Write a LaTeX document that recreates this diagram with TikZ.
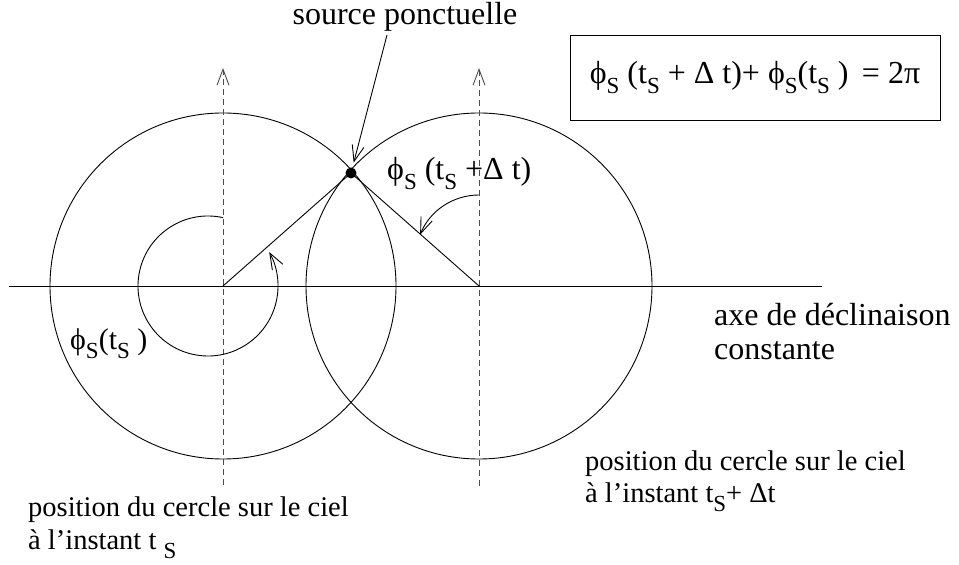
\documentclass[tikz,border=0pt]{standalone}
\usepackage{fontspec}
\setmainfont{Liberation Serif}
\usetikzlibrary{arrows.meta, positioning, calc}

\newcommand{\lowsub}[1]{\raisebox{-0.3em}{\fontsize{23}{23}\selectfont #1}}
\newcommand{\bigtxt}{\fontsize{32}{37}\selectfont}
\newcommand{\midtxt}{\fontsize{28.5}{33}\selectfont}

\begin{document}
\begin{tikzpicture}[
    x=1pt, y=1pt,
    >={Straight Barb[length=16pt, width=12pt]},
    thinline/.style={line width=0.9pt},
    guide/.style={thinline, dash pattern=on 6pt off 4pt, black!70, ->},
    lbl/.style={inner sep=0pt, anchor=base west},
    srcdot/.style={circle, fill, inner sep=0pt, minimum size=11pt}
  ]
  \useasboundingbox (0,0) rectangle (959,565);

  % centres and source point
  \coordinate (cl) at (223,279);
  \coordinate (cr) at (479,279);
  \coordinate (src) at (351,392);
  \coordinate (phil) at (208,279);
  \coordinate (phir) at (479,306.5);

  % declination axis
  \coordinate (axw) at (9,279);
  \coordinate (axe) at (822,279);
  \draw[thinline] (axw) -- (axe);

  % circles on the sky
  \draw[thinline] (cl) circle[radius=173];
  \draw[thinline] (cr) circle[radius=173];

  % dashed guides
  \coordinate (dlb) at (223,80);
  \coordinate (dlt) at (223,497);
  \coordinate (drb) at (479,79);
  \coordinate (drt) at (479,497);
  \draw[guide] (dlb) -- (dlt);
  \draw[guide] (drb) -- (drt);

  % radii to the source
  \draw[thinline] (cl) -- (src) -- (cr);
  \node[srcdot] (dot) at (src) {};

  % angles
  \draw[thinline, ->] ([shift={(77.6:70)}]phil) arc[start angle=77.6, end angle=389, radius=70];
  \draw[thinline, ->] ([shift={(90:63.5)}]phir) arc[start angle=90, end angle=158, radius=63.5];

  % labels
  \node[inner sep=0pt, anchor=base] (srclbl) at (405,540) {\bigtxt source ponctuelle};
  \coordinate (srctail) at (387,530);
  \draw[thinline, ->, shorten >=5pt] (srctail) -- (dot);

  \node[lbl] (phiright) at (387,385) {\bigtxt ϕ\lowsub{S} (t\lowsub{S} +Δ t)};
  \node[lbl] (phileft) at (70,215) {\fontsize{30}{34}\selectfont ϕ\lowsub{S}(t\lowsub{S} )};

  \node[lbl] (axlbl) at (714,239) {\bigtxt axe de déclinaison};
  \node[lbl] (axlblb) at (714,205) {\bigtxt constante};

  \node[lbl] (posr) at (585,94) {\midtxt position du cercle sur le ciel};
  \node[lbl] (posrb) at (585,62) {\midtxt à l’instant t\lowsub{S}+ Δt};
  \node[lbl] (posl) at (28,48) {\midtxt position du cercle sur le ciel};
  \node[lbl] (poslb) at (28,15) {\midtxt à l’instant t \lowsub{S}};

  \node[draw, thinline, minimum width=370pt, minimum height=85pt] (eqbox) at (755,487.5)
    {\bigtxt ϕ\lowsub{S} (t\lowsub{S} + Δ t)+ ϕ\lowsub{S}(t\lowsub{S} ) \,= 2π};
\end{tikzpicture}
\end{document}
